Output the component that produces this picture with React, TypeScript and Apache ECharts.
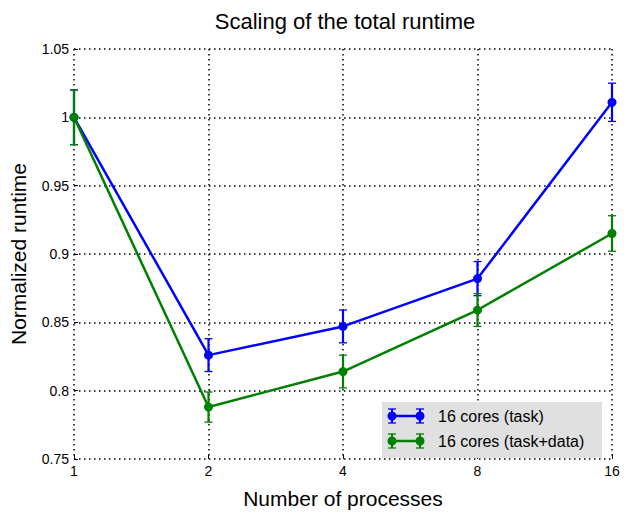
import React, { useEffect, useRef } from "react";
import * as echarts from "echarts";

const processes = [1, 2, 4, 8, 16];
const taskValues = [1.0, 0.826, 0.847, 0.882, 1.011];
const taskErrors = [0.02, 0.012, 0.012, 0.0125, 0.014];
const taskDataValues = [1.0, 0.788, 0.814, 0.859, 0.915];
const taskDataErrors = [0.02, 0.011, 0.012, 0.012, 0.013];
const seriesNames = ["16 cores (task)", "16 cores (task+data)"];
const seriesColors = ["#0000ff", "#008000"];
const yTicks = { min: 0.75, max: 1.05, interval: 0.05 };

const FONT = "Liberation Sans, Arial, Helvetica, sans-serif";

function errorSeries(values: number[], errs: number[], color: string, name: string) {
  return {
    type: "custom",
    name,
    z: 3,
    silent: true,
    data: processes.map((p, i) => [p, values[i], errs[i]]),
    encode: { x: 0, y: 1 },
    renderItem: (params: any, api: any) => {
      const x = api.value(0);
      const y = api.value(1);
      const e = api.value(2);
      const top = api.coord([x, y + e]);
      const bot = api.coord([x, y - e]);
      const cap = 4;
      return {
        type: "group",
        children: [
          { type: "line", shape: { x1: top[0], y1: top[1], x2: bot[0], y2: bot[1] }, style: { stroke: color, lineWidth: 2.2 } },
          { type: "line", shape: { x1: top[0] - cap, y1: top[1], x2: top[0] + cap, y2: top[1] }, style: { stroke: color, lineWidth: 1.3 } },
          { type: "line", shape: { x1: bot[0] - cap, y1: bot[1], x2: bot[0] + cap, y2: bot[1] }, style: { stroke: color, lineWidth: 1.3 } },
        ],
      };
    },
  };
}

function legendIcon(y: number, color: string) {
  const x1 = 392, x2 = 420, h = 7, z = 12;
  return [
    { type: "line", z, shape: { x1, y1: y, x2, y2: y }, style: { stroke: color, lineWidth: 2.5 } },
    { type: "line", z, shape: { x1, y1: y - h, x2: x1, y2: y + h }, style: { stroke: color, lineWidth: 2 } },
    { type: "line", z, shape: { x1: x2, y1: y - h, x2, y2: y + h }, style: { stroke: color, lineWidth: 2 } },
    { type: "line", z, shape: { x1: x1 - 4, y1: y - h, x2: x1 + 4, y2: y - h }, style: { stroke: color, lineWidth: 1.3 } },
    { type: "line", z, shape: { x1: x1 - 4, y1: y + h, x2: x1 + 4, y2: y + h }, style: { stroke: color, lineWidth: 1.3 } },
    { type: "line", z, shape: { x1: x2 - 4, y1: y - h, x2: x2 + 4, y2: y - h }, style: { stroke: color, lineWidth: 1.3 } },
    { type: "line", z, shape: { x1: x2 - 4, y1: y + h, x2: x2 + 4, y2: y + h }, style: { stroke: color, lineWidth: 1.3 } },
    { type: "circle", z, shape: { cx: x1, cy: y, r: 4.5 }, style: { fill: color } },
    { type: "circle", z, shape: { cx: x2, cy: y, r: 4.5 }, style: { fill: color } },
  ];
}

export default function App() {
  const ref = useRef<HTMLDivElement>(null);
  useEffect(() => {
    if (!ref.current) return;
    const chart = echarts.init(ref.current, null, { renderer: "svg" });
    const gridLine = { show: true, lineStyle: { color: "#000", type: [1.5, 3.5], width: 1.5 } };
    chart.setOption({
      animation: false,
      backgroundColor: "#fff",
      title: {
        text: "Scaling of the total runtime",
        left: 340,
        textAlign: "center",
        top: 5,
        textStyle: { fontFamily: FONT, fontSize: 22, fontWeight: "normal", color: "#000" },
      },
      grid: { left: 72, right: 18, top: 49, bottom: 48, containLabel: false },
      xAxis: {
        type: "log",
        logBase: 2,
        min: 1,
        max: 16,
        name: "Number of processes",
        nameLocation: "middle",
        nameGap: 29,
        nameTextStyle: { fontFamily: FONT, fontSize: 21, color: "#000" },
        axisLine: { show: false },
        axisTick: { show: true, inside: true, length: 4, lineStyle: { color: "#000" } },
        axisLabel: { fontFamily: FONT, fontSize: 14, color: "#000", margin: 5 },
        splitLine: gridLine,
        minorTick: { show: false },
      },
      yAxis: {
        type: "value",
        min: yTicks.min,
        max: yTicks.max,
        interval: yTicks.interval,
        name: "Normalized runtime",
        nameLocation: "middle",
        nameGap: 45,
        nameTextStyle: { fontFamily: FONT, fontSize: 21, color: "#000" },
        axisLine: { show: false },
        axisTick: { show: true, inside: true, length: 4, lineStyle: { color: "#000" } },
        axisLabel: { fontFamily: FONT, fontSize: 14, color: "#000", margin: 5 },
        splitLine: gridLine,
      },
      series: [
        {
          type: "line",
          name: seriesNames[0],
          data: processes.map((p, i) => [p, taskValues[i]]),
          symbol: "circle",
          symbolSize: 9,
          lineStyle: { color: seriesColors[0], width: 2.5 },
          itemStyle: { color: seriesColors[0] },
          z: 4,
        },
        errorSeries(taskValues, taskErrors, seriesColors[0], seriesNames[0] + " err"),
        {
          type: "line",
          name: seriesNames[1],
          data: processes.map((p, i) => [p, taskDataValues[i]]),
          symbol: "circle",
          symbolSize: 9,
          lineStyle: { color: seriesColors[1], width: 2.5 },
          itemStyle: { color: seriesColors[1] },
          z: 4,
        },
        errorSeries(taskDataValues, taskDataErrors, seriesColors[1], seriesNames[1] + " err"),
      ],
      graphic: [
        { type: "rect", shape: { x: 382, y: 402, width: 220, height: 56 }, style: { fill: "#e0e0e0" }, z: 10 },
        ...legendIcon(416, seriesColors[0]),
        ...legendIcon(441, seriesColors[1]),
        {
          type: "text", z: 12, x: 438, y: 416,
          style: { text: seriesNames[0], fontFamily: FONT, fontSize: 16, fill: "#000", verticalAlign: "middle" },
        },
        {
          type: "text", z: 12, x: 438, y: 441,
          style: { text: seriesNames[1], fontFamily: FONT, fontSize: 16, fill: "#000", verticalAlign: "middle" },
        },
      ],
    });
    return () => chart.dispose();
  }, []);
  return <div ref={ref} style={{ width: 630, height: 514, position: "absolute", left: 0, top: 0 }} />;
}
